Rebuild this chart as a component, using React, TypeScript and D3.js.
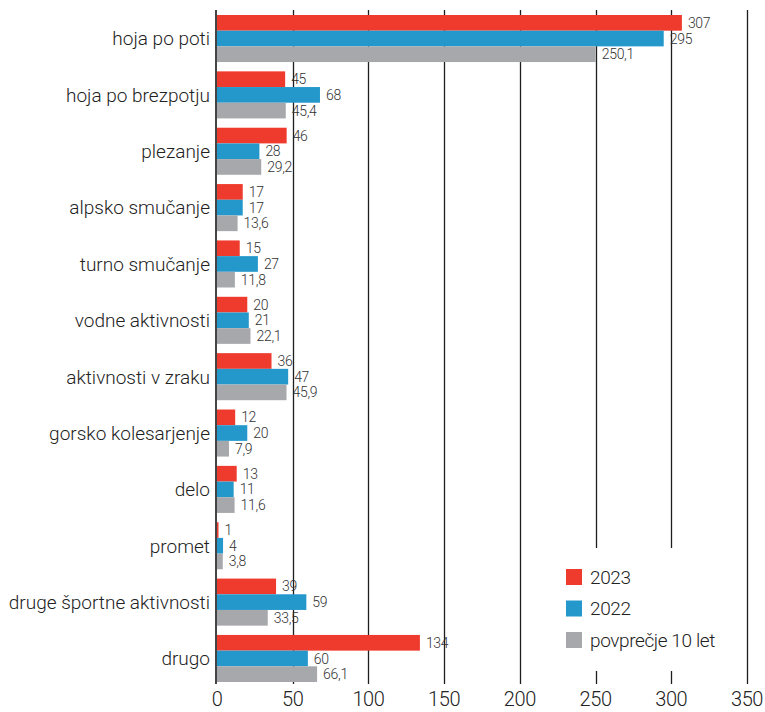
import React from "react";
import * as d3 from "d3";

const categories = [
  "hoja po poti",
  "hoja po brezpotju",
  "plezanje",
  "alpsko smučanje",
  "turno smučanje",
  "vodne aktivnosti",
  "aktivnosti v zraku",
  "gorsko kolesarjenje",
  "delo",
  "promet",
  "druge športne aktivnosti",
  "drugo",
];

const values2023 = [307, 45, 46, 17, 15, 20, 36, 12, 13, 1, 39, 134];
const values2022 = [295, 68, 28, 17, 27, 21, 47, 20, 11, 4, 59, 60];
const valuesAvg = [250.1, 45.4, 29.2, 13.6, 11.8, 22.1, 45.9, 7.9, 11.6, 3.8, 33.5, 66.1];

const seriesNames = ["2023", "2022", "povprečje 10 let"];
const seriesColors = ["#EF3B2D", "#2598CB", "#A7A8AB"];
const xTicks = [0, 50, 100, 150, 200, 250, 300, 350];

const W = 765;
const H = 712;
const FONT = "Roboto, 'Open Sans', sans-serif";

export default function App() {
  const series = [values2023, values2022, valuesAvg];
  const x = d3.scaleLinear().domain([0, 350]).range([217, 747]);
  const y = d3
    .scaleBand<string>()
    .domain(categories)
    .range([15, 682])
    .paddingInner(0.165)
    .paddingOuter(0);
  const ys = d3
    .scaleBand<string>()
    .domain(seriesNames)
    .range([0, y.bandwidth()])
    .padding(0);
  const fmt = (v: number) => String(v).replace(".", ",");

  const gridTop = 10;
  const gridBottom = 684;

  return (
    <svg
      width={W}
      height={H}
      style={{ position: "absolute", left: 0, top: 0, background: "#fff" }}
      fontFamily={FONT}
    >
      {/* vertical gridlines */}
      {xTicks.slice(1).map((t) => (
        <line
          key={t}
          x1={Math.round(x(t)) + 0.5}
          x2={Math.round(x(t)) + 0.5}
          y1={gridTop}
          y2={gridBottom}
          stroke="#1e1e1e"
          strokeWidth={1.3}
        />
      ))}

      {/* bars and value labels */}
      {categories.map((c, i) => (
        <g key={c} transform={`translate(0,${y(c)})`}>
          {series.map((vals, s) => {
            const name = seriesNames[s];
            const by = ys(name)!;
            const bh = ys.bandwidth();
            return (
              <g key={name}>
                <rect
                  x={x(0)}
                  y={by}
                  width={x(vals[i]) - x(0)}
                  height={bh}
                  fill={seriesColors[s]}
                />
                <text
                  x={x(vals[i]) + 6}
                  y={by + bh / 2}
                  dy="0.36em"
                  fontSize={14}
                  fontWeight={300}
                  letterSpacing={-0.3}
                  fill="#333"
                >
                  {fmt(vals[i])}
                </text>
              </g>
            );
          })}
          <text
            x={210}
            y={y.bandwidth() / 2}
            dy="0.36em"
            textAnchor="end"
            fontSize={19}
            fontWeight={300}
            fill="#222"
          >
            {c}
          </text>
        </g>
      ))}

      {/* zero baseline */}
      <line
        x1={216}
        x2={216}
        y1={gridTop}
        y2={gridBottom}
        stroke="#444"
        strokeWidth={2}
      />

      {/* legend */}
      <rect x={555} y={548} width={186} height={123} fill="#fff" />
      {seriesNames.map((n, s) => (
        <g key={n} transform={`translate(566,${569 + s * 31.5})`}>
          <rect x={0} y={0} width={16} height={16} fill={seriesColors[s]} />
          <text
            x={24}
            y={8}
            dy="0.36em"
            fontSize={19}
            fontWeight={300}
            letterSpacing={-0.4}
            fill="#222"
          >
            {n}
          </text>
        </g>
      ))}

      {/* x axis tick labels */}
      {xTicks.map((t) => (
        <text
          key={t}
          x={x(t)}
          y={706}
          textAnchor="middle"
          fontSize={20}
          fontWeight={300}
          letterSpacing={-0.4}
          fill="#222"
        >
          {t}
        </text>
      ))}
    </svg>
  );
}
